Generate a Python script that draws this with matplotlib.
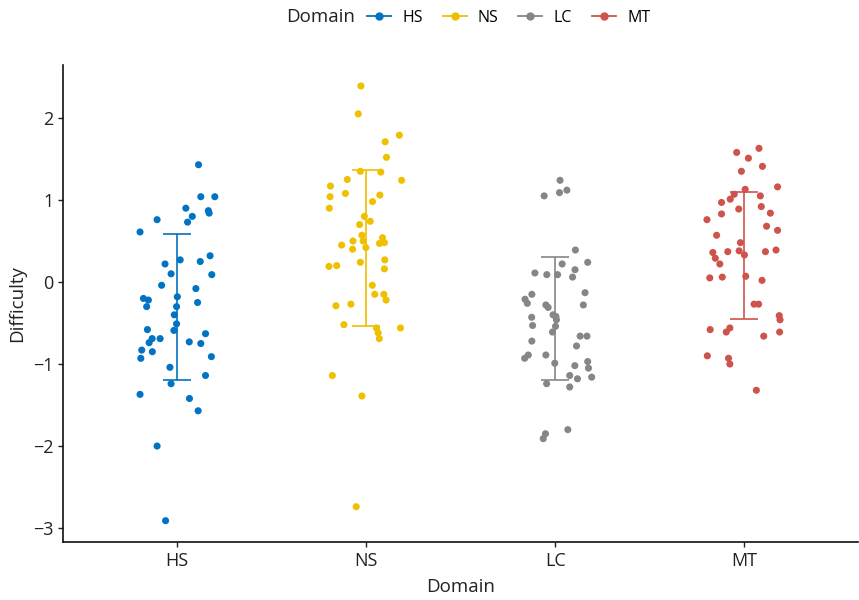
import numpy as np
import matplotlib
matplotlib.use("Agg")
import matplotlib.pyplot as plt
from matplotlib.lines import Line2D

plt.rcParams['font.family'] = ['Open Sans', 'DejaVu Sans']

domains = ["HS", "NS", "LC", "MT"]
colors = ["#0073C2", "#EFC000", "#868686", "#CD534C"]

# difficulty values per domain
hs = [1.43, 1.04, 1.04, 0.90, 0.87, 0.84, 0.80, 0.76, 0.73, 0.61, 0.32, 0.27, 0.25, 0.22,
      0.09, 0.10, -0.04, -0.08, -0.20, -0.22, -0.18, -0.30, -0.25, -0.30, -0.40, -0.51,
      -0.59, -0.58, -0.69, -0.69, -0.74, -0.63, -0.75, -0.73, -0.83, -0.85, -0.93, -0.91,
      -1.04, -1.14, -1.24, -1.37, -1.42, -1.57, -2.00, -2.91]
ns = [2.39, 2.05, 1.79, 1.71, 1.52, 1.35, 1.34, 1.24, 1.25, 1.17, 1.04, 1.08, 1.06, 0.98,
      0.90, 0.80, 0.74, 0.70, 0.57, 0.54, 0.50, 0.50, 0.47, 0.48, 0.45, 0.42, 0.40, 0.27,
      0.24, 0.19, 0.20, 0.16, -0.04, -0.15, -0.15, -0.22, -0.29, -0.27, -0.52, -0.56,
      -0.56, -0.62, -0.69, -1.14, -1.39, -2.74]
lc = [1.24, 1.12, 1.09, 1.05, 0.39, 0.24, 0.22, 0.15, 0.11, 0.09, 0.09, 0.06, -0.13, -0.15,
      -0.21, -0.26, -0.28, -0.31, -0.28, -0.43, -0.40, -0.42, -0.46, -0.53, -0.54, -0.61,
      -0.66, -0.66, -0.72, -0.78, -0.89, -0.93, -0.89, -0.99, -0.97, -1.02, -1.05, -1.14,
      -1.18, -1.16, -1.24, -1.28, -1.80, -1.85, -1.91]
mt = [1.63, 1.58, 1.51, 1.41, 1.35, 1.16, 1.13, 1.07, 1.05, 1.01, 0.97, 0.92, 0.89, 0.84,
      0.83, 0.76, 0.68, 0.63, 0.57, 0.48, 0.36, 0.37, 0.38, 0.37, 0.39, 0.33, 0.29, 0.22,
      0.05, 0.06, 0.07, 0.02, -0.27, -0.27, -0.41, -0.46, -0.58, -0.56, -0.61, -0.61,
      -0.66, -0.90, -0.93, -1.00, -1.32]

# horizontal jitter of each point (category units)
hs_jit = [0.116, 0.128, 0.202, 0.049, 0.168, 0.172, 0.083, -0.103, 0.058, -0.193, 0.177,
          0.019, 0.125, -0.061, 0.186, -0.029, -0.079, 0.102, -0.175, -0.149, 0.004, -0.158,
          0.111, 0.000, -0.012, 0.000, -0.014, -0.154, -0.129, -0.087, -0.145, 0.153, 0.128,
          0.067, -0.184, -0.128, -0.189, 0.184, -0.035, 0.153, -0.029, -0.193, 0.068, 0.114,
          -0.103, -0.058]
ns_jit = [-0.026, -0.040, 0.177, 0.102, 0.109, -0.029, 0.079, 0.189, -0.098, -0.187, -0.189,
          -0.108, 0.074, 0.035, -0.193, -0.008, 0.023, -0.033, -0.021, 0.088, -0.068, -0.014,
          0.072, 0.098, -0.128, 0.000, -0.070, 0.100, -0.029, -0.195, -0.154, 0.098, 0.034,
          0.047, 0.095, 0.107, -0.158, -0.079, -0.116, 0.056, 0.183, 0.065, 0.071, -0.177,
          -0.021, -0.051]
lc_jit = [0.026, 0.062, 0.023, -0.058, 0.107, 0.172, 0.037, 0.105, -0.107, -0.044, 0.013,
          0.092, 0.158, -0.123, -0.159, -0.147, -0.049, -0.037, 0.149, -0.124, -0.011, 0.004,
          0.007, -0.119, 0.002, -0.014, 0.132, 0.168, -0.123, 0.113, -0.142, -0.161, -0.049,
          -0.002, 0.172, 0.104, 0.176, 0.077, 0.118, 0.193, -0.045, 0.077, 0.067, -0.051,
          -0.063]
mt_jit = [0.077, -0.041, 0.021, 0.095, -0.016, 0.175, 0.004, -0.054, 0.084, -0.075, -0.121,
          0.089, -0.030, 0.137, -0.121, -0.198, 0.117, 0.175, -0.147, -0.021, -0.167, -0.088,
          -0.028, 0.111, 0.167, 0.000, -0.154, -0.130, -0.183, -0.117, 0.007, 0.093, 0.051,
          0.075, 0.184, 0.188, -0.181, -0.077, -0.096, 0.186, 0.102, -0.196, -0.084, -0.077,
          0.063]

# mean and sd shown by the error bars
means = [-0.30, 0.415, -0.45, 0.325]
sds = [0.89, 0.955, 0.75, 0.775]

values = [hs, ns, lc, mt]
jitters = [hs_jit, ns_jit, lc_jit, mt_jit]

fig = plt.figure(figsize=(8.59, 6), dpi=100)
ax = fig.add_axes([63 / 859, 1 - 542 / 600, 795 / 859, 477 / 600])

for i, (vals, jit, col) in enumerate(zip(values, jitters, colors)):
    x = i + 1 + np.array(jit)
    ax.scatter(x, vals, s=26, color=col, edgecolors='none', zorder=2)
    ax.errorbar(i + 1, means[i], yerr=sds[i], color=col, capsize=10,
                elinewidth=1.2, capthick=1.2, zorder=3)

ax.set_xlim(0.4, 4.6)
ax.set_ylim(-3.17, 2.646)
ax.set_xticks([1, 2, 3, 4])
ax.set_xticklabels(domains)
ax.set_yticks([-3, -2, -1, 0, 1, 2])
ax.tick_params(labelsize=13, length=3.5, width=1.0, colors='#222222', labelcolor='#222222')
for s in ['top', 'right']:
    ax.spines[s].set_visible(False)
for s in ['left', 'bottom']:
    ax.spines[s].set_linewidth(1.2)
    ax.spines[s].set_color('#111111')

ax.set_xlabel("Domain", fontsize=13.5, color='#222222', labelpad=6)
ax.set_ylabel("Difficulty", fontsize=13.5, color='#222222', labelpad=5)

# legend across the top, title on its left
fig.text(286 / 859, 1 - 17 / 600, "Domain", fontsize=13.5, color='#222222',
         ha='left', va='center')
handles = [Line2D([0], [0], color=c, marker='o', markersize=5, lw=1.3) for c in colors]
fig.legend(handles, domains, loc='center left', bbox_to_anchor=(367 / 859, 1 - 18 / 600),
           ncol=4, frameon=False, fontsize=11.5, handlelength=1.5, handletextpad=0.7,
           columnspacing=1.25, borderpad=0, borderaxespad=0)

fig.savefig("out.png", dpi=100)
